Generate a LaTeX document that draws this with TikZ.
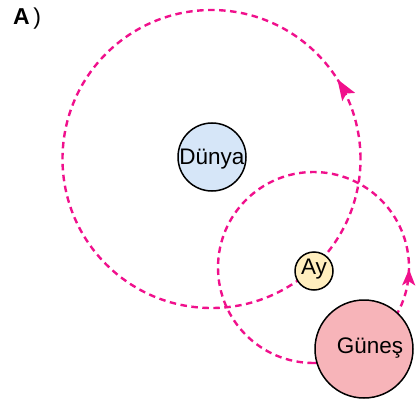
\documentclass[tikz,border=0pt]{standalone}
\usepackage{fontspec}
\setmainfont{Liberation Sans}
\usetikzlibrary{decorations.markings,arrows.meta}
\definecolor{orbit}{RGB}{240,16,140}
\definecolor{earthfill}{RGB}{214,230,248}
\definecolor{moonfill}{RGB}{255,238,190}
\definecolor{sunfill}{RGB}{247,180,185}
\tikzset{
  orbitline/.style={draw=orbit, line width=2.4pt, dash pattern=on 6.5pt off 4.5pt},
  body/.style={circle, draw=black, line width=1.5pt, inner sep=0pt, text=black},
  bodytext/.style={font=\fontsize{22.5}{26}\selectfont, inner sep=0pt},
  arrowat/.style n args={3}{postaction={decorate}, decoration={markings,
    mark=at position #1 with {\arrow[orbit, solid]{Stealth[length=#2,width=#3,inset=4pt]}}}}
}
\begin{document}
\begin{tikzpicture}[x=1pt,y=1pt]
\useasboundingbox (0,0) rectangle (417,405);
\coordinate (bigc) at (211.5,246);
\coordinate (smallc) at (313.5,137.5);
% orbits
\path[orbitline, arrowat={0.09}{21pt}{15pt}] (bigc) circle[radius=149];
\path[orbitline, arrowat={0.247}{16pt}{13pt}] (smallc) ++(-90:95.5) arc[start angle=-90, end angle=270, radius=95.5];
% bodies
\node[body, fill=earthfill, minimum size=68pt] (dunya) at (212,248) {};
\node[bodytext] (dunyatext) at (212,246) {Dünya};
\node[body, fill=moonfill, minimum size=38pt] (ay) at (314,134) {};
\node[bodytext] (aytext) at (314,136) {Ay};
\node[body, fill=sunfill, minimum size=98pt] (gunes) at (364,56) {};
\node[bodytext] (gunestext) at (370,57) {Güneş};
% label
\node[anchor=base west, inner sep=0pt] (lbl) at (13,380) {\fontsize{23}{26}\selectfont\textbf{A}\hspace{3.5pt})};
\end{tikzpicture}
\end{document}
